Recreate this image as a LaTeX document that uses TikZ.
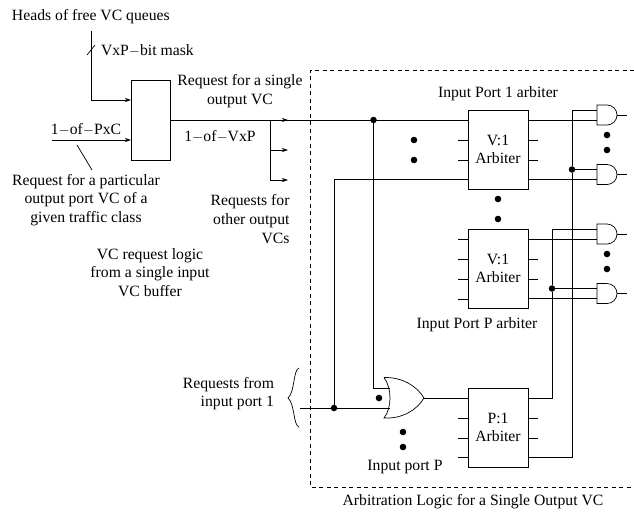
\documentclass[tikz,border=0pt]{standalone}
\usepackage{fontspec}
\setmainfont{Liberation Serif}
\usetikzlibrary{arrows.meta,positioning}
\newcommand{\andgate}[3]{
	\draw (#2,#3-10) -- (#2+10,#3-10) .. controls (#2+15.5,#3-10) and (#2+20,#3-5.5) .. (#2+20,#3) .. controls (#2+20,#3+5.5) and (#2+15.5,#3+10) .. (#2+10,#3+10) -- (#2,#3+10) -- cycle;
	\coordinate (#1in1) at (#2,#3-5);
	\coordinate (#1in2) at (#2,#3+5);
	\coordinate (#1out) at (#2+20,#3);
}
\begin{document}
\begin{tikzpicture}[x=1pt, y=-1pt, line width=.7pt,
		every node/.style={font=\fontsize{15.7}{18.6}\selectfont, inner sep=0pt, outer sep=0pt},
		arbiter/.style={draw, minimum width=60pt, minimum height=79pt, align=center},
		reqbox/.style={draw, minimum width=39pt, minimum height=80pt},
		dot/.style={circle, fill=black, minimum size=6.5pt},
		req/.style={-{Stealth[length=6pt,width=4pt]}}]
	\useasboundingbox (0,0) rectangle (634,515);
	\draw[dash pattern=on 4pt off 3.5pt] (634,70) -- (310,70) -- (310,487) -- (634,487);

	\node[reqbox] (vcbox) at (150.5,120) {};
	\node[arbiter] (arb1) at (498,149.5) {V:1\\Arbiter};
	\node[arbiter] (arbP) at (498,268.5) {V:1\\Arbiter};
	\node[arbiter] (arbO) at (498,427.5) {P:1\\Arbiter};
	\andgate{and1}{597}{115}
	\andgate{and2}{597}{174.5}
	\andgate{and3}{597}{234}
	\andgate{and4}{597}{293.5}
	\draw (384,377.5) .. controls (402,377) and (417,386) .. (424,398) .. controls (417,410) and (402,419) .. (384,418) .. controls (392,408) and (392,388) .. (384,377.5);
	\coordinate (orin1) at (389.5,388);
	\coordinate (orin2) at (389.5,408);
	\coordinate (orout) at (424,398);

	\node[anchor=west] (heads) at (12,17) {Heads of free VC queues};
	\node[anchor=west] (mask) at (101,51) {VxP$-$bit mask};
	\node[align=center] (single) at (240,91) {Request for a single\\output VC};
	\node (onevxp) at (220,137) {1$-$of$-$VxP};
	\node (onepxc) at (86,130) {1$-$of$-$PxC};
	\node[align=center] (particular) at (86,200) {Request for a particular\\output port VC of a\\given traffic class};
	\node[align=right, anchor=east] (others) at (289.5,219) {Requests for\\other output\\VCs};
	\node[align=center] (logic) at (150,272.5) {VC request logic\\from a single input\\VC buffer};
	\node[above=9pt of arb1] (lab1) {Input Port 1 arbiter};
	\node[below=10pt of arbP, xshift=-21pt] (labP) {Input Port P arbiter};
	\node (labor) at (405,467) {Input port P};
	\node[align=right, anchor=east] (fromport) at (274,393.5) {Requests from\\input port 1};
	\node (arblabel) at (473,502) {Arbitration Logic for a Single Output VC};

	\coordinate (maskstart) at (91,31);
	\coordinate (maskin) at (131,100);
	\coordinate (pxcstart) at (52,140);
	\coordinate (pxcin) at (131,140);
	\coordinate (branch) at (270,120);
	\coordinate (portin) at (300,408);
	\node[dot] (j1) at (373.5,120) {};
	\node[dot] (j2) at (334,408) {};
	\node[dot] (j3) at (572,169.5) {};
	\node[dot] (j4) at (552,288.5) {};

	\draw[req] (maskstart) |- (maskin);
	\draw (87,55) -- (95,45);
	\draw[req] (pxcstart) -- (pxcin);
	\draw (77,145) -- (92,170);
	\draw (vcbox.east |- branch) -- (arb1.west |- branch);
	\draw[req] (branch) -- (288,120);
	\draw (branch) -- (270,180);
	\foreach \y in {150,180}
		\draw[req] (270,\y) -- (288,\y);

	\draw (j1) |- (orin1);
	\draw (portin) -- (orin2);
	\draw (j2) |- (arb1.west |- 0,179);
	\draw (orout) -- (arbO.west |- orout);

	\foreach \a/\ys in {arb1/{140,160}, arbP/{239,259,279,299}, arbO/{418,438,457}}
		\foreach \y in \ys
			\draw (\a.west |- 0,\y) -- ++(-10,0);
	\foreach \a/\ys in {arb1/{140,160}, arbP/{259,279}, arbO/{418,438}}
		\foreach \y in \ys
			\draw (\a.east |- 0,\y) -- ++(10,0);

	\draw (arb1.east |- and1in2) -- (and1in2);
	\draw (arb1.east |- and2in2) -- (and2in2);
	\draw (arbP.east |- and3in2) -- (and3in2);
	\draw (arbP.east |- and4in2) -- (and4in2);
	\draw (j3) -- (and2in1);
	\draw (j4) -- (and4in1);
	\draw (arbO.east |- 0,457) -| (j3) -- (j3 |- and1in1) -- (and1in1);
	\draw (arbO.east |- 0,398) -| (j4) -- (j4 |- and3in1) -- (and3in1);
	\foreach \g in {and1,and2,and3,and4}
		\draw (\g out) -- ++(10,0);

	\draw (299,368) .. controls (293,370) and (295,392) .. (288,398) .. controls (295,404) and (293,425) .. (299,427);

	\foreach \x/\y in {414/140,414/160,498/199,498/219,607/135,607/150,607/254,607/269,379/398,403/432,403/447}
		\fill (\x,\y) circle (3.3pt);
\end{tikzpicture}
\end{document}
